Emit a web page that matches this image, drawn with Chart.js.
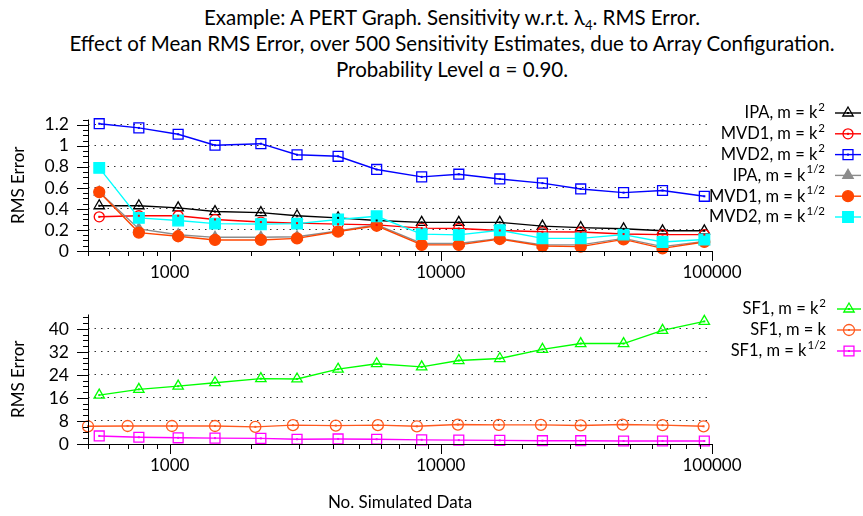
<!DOCTYPE html>
<html lang="en">
<head>
<meta charset="UTF-8">
<title>PERT Graph - RMS Error</title>
<script src="https://cdn.jsdelivr.net/npm/chart.js"></script>
<style>
    body { margin: 0; background: #fff; font-family: Lato, "Open Sans", sans-serif; }
    #wrap { position: relative; width: 863px; height: 516px; overflow: hidden; }
    #title {
        position: absolute; left: 0; top: 4px; width: 904px;
        text-align: center; font-size: 20.5px; line-height: 26px; color: #000;
    }
    #title sub { font-size: 13px; line-height: 0; }
    #topBox { position: absolute; left: 0; top: 90px; }
    #botBox { position: absolute; left: 0; top: 285px; }
</style>
</head>
<body>
<div id="wrap">
    <div id="title">
        Example: A PERT Graph. Sensitivity w.r.t. λ<sub>4</sub>. RMS Error.<br>
        Effect of Mean RMS Error, over 500 Sensitivity Estimates, due to Array Configuration.<br>
        Probability Level ɑ = 0.90.
    </div>
    <canvas id="topBox" width="863" height="195"></canvas>
    <canvas id="botBox" width="863" height="231"></canvas>
</div>
<script>
    // x values (no. simulated data)
    const simData = [550, 770, 1075, 1470, 2170, 2950, 4180, 5800, 8500, 11650, 16500, 23700, 32800, 47200, 65700, 93700];
    const simDataMk = [500, 700, 1020, 1470, 2070, 2850, 4100, 5860, 8160, 11560, 16370, 23400, 32800, 46800, 65700, 93100];

    // top panel series
    const ipaK2   = [0.43, 0.43, 0.41, 0.375, 0.365, 0.335, 0.315, 0.29, 0.272, 0.272, 0.272, 0.236, 0.222, 0.211, 0.192, 0.192];
    const mvd1K2  = [0.325, 0.335, 0.335, 0.30, 0.275, 0.265, 0.255, 0.248, 0.217, 0.214, 0.195, 0.183, 0.181, 0.161, 0.156, 0.156];
    const mvd2K2  = [1.21, 1.17, 1.11, 1.005, 1.02, 0.915, 0.90, 0.775, 0.705, 0.73, 0.685, 0.645, 0.59, 0.555, 0.575, 0.52];
    const ipaK12  = [0.56, 0.21, 0.155, 0.13, 0.13, 0.135, 0.19, 0.25, 0.072, 0.072, 0.12, 0.058, 0.058, 0.12, 0.042, 0.09];
    const mvd1K12 = [0.56, 0.175, 0.14, 0.105, 0.105, 0.12, 0.185, 0.24, 0.058, 0.058, 0.114, 0.047, 0.042, 0.11, 0.025, 0.086];
    const mvd2K12 = [0.79, 0.315, 0.29, 0.26, 0.255, 0.26, 0.30, 0.33, 0.16, 0.153, 0.197, 0.12, 0.12, 0.156, 0.086, 0.11];

    // bottom panel series
    const sf1K2  = [17, 19, 20.1, 21.3, 22.7, 22.6, 26, 27.9, 26.8, 29, 29.7, 32.9, 34.9, 34.9, 39.5, 42.6];
    const sf1K   = [6.15, 6.25, 6.25, 6.25, 5.95, 6.55, 6.4, 6.55, 6.15, 6.75, 6.65, 6.65, 6.45, 6.75, 6.55, 6.15];
    const sf1K12 = [2.8, 2.35, 2.15, 2.05, 1.95, 1.65, 1.75, 1.65, 1.45, 1.35, 1.25, 1.15, 1.15, 1.05, 1.05, 1.05];

    // tick labels
    const xTicks = [1000, 10000, 100000];
    const yTopTicks = [0, 0.2, 0.4, 0.6, 0.8, 1, 1.2];
    const yBotTicks = [0, 8, 16, 24, 32, 40];

    const FONT = 'Lato, "Open Sans", sans-serif';

    function series(label, sup, xs, ys, color, style, radius, filled, order) {
        return {
            label: label, sup: sup,
            data: xs.map((x, i) => ({x: x, y: ys[i]})),
            borderColor: color, backgroundColor: color,
            pointBackgroundColor: filled ? color : 'rgba(0,0,0,0)',
            pointBorderColor: color, pointStyle: style, pointRadius: radius,
            pointBorderWidth: 1.3, borderWidth: 1.4, tension: 0,
            clip: false, fill: false, order: order, dot: !filled
        };
    }

    // axis lines and major/minor ticks, gnuplot style
    const axesPlugin = {
        id: 'gnuAxes',
        afterDraw(chart, args, o) {
            const ctx = chart.ctx, a = chart.chartArea, x = chart.scales.x, y = chart.scales.y;
            ctx.save();
            ctx.strokeStyle = '#000';
            ctx.lineWidth = 1;
            ctx.beginPath();
            ctx.moveTo(a.left + 0.5, a.top);
            ctx.lineTo(a.left + 0.5, a.bottom + 0.5);
            ctx.lineTo(a.right, a.bottom + 0.5);
            for (let d = 100; d <= 100000; d *= 10) {
                for (let m = 1; m <= 9; m++) {
                    const v = m * d;
                    if (v < x.min || v > x.max) continue;
                    const px = Math.round(x.getPixelForValue(v)) + 0.5;
                    ctx.moveTo(px, a.bottom);
                    ctx.lineTo(px, a.bottom + (m === 1 ? 10 : 5));
                }
            }
            for (let i = 0; i * o.minor <= y.max + 1e-9; i++) {
                const py = Math.round(y.getPixelForValue(i * o.minor)) + 0.5;
                ctx.moveTo(a.left, py);
                ctx.lineTo(a.left - (i % o.per === 0 ? 11 : 5), py);
            }
            ctx.stroke();
            ctx.restore();
        }
    };

    // small centre dot inside open markers
    const dotPlugin = {
        id: 'centerDots',
        afterDatasetsDraw(chart) {
            const ctx = chart.ctx;
            chart.data.datasets.forEach((ds, i) => {
                if (!ds.dot) return;
                ctx.fillStyle = ds.borderColor;
                chart.getDatasetMeta(i).data.forEach(p => ctx.fillRect(p.x - 1, p.y - 1, 2, 2));
            });
        }
    };

    // legend on the right, with superscripts
    const legendPlugin = {
        id: 'sideLegend',
        afterDraw(chart, args, o) {
            const ctx = chart.ctx;
            const mainFont = o.size + 'px ' + FONT, supFont = o.supSize + 'px ' + FONT;
            chart.data.datasets.forEach((ds, i) => {
                const y = o.y0 + i * o.dy;
                ctx.save();
                ctx.textBaseline = 'middle';
                ctx.textAlign = 'left';
                ctx.fillStyle = '#000';
                ctx.font = supFont;
                const ws = ds.sup ? ctx.measureText(ds.sup).width + 1 : 0;
                ctx.font = mainFont;
                const wm = ctx.measureText(ds.label).width;
                const x0 = o.textRight - ws - wm;
                ctx.fillText(ds.label, x0, y);
                if (ds.sup) {
                    ctx.font = supFont;
                    ctx.fillText(ds.sup, x0 + wm + 1, y - o.raise);
                }
                ctx.strokeStyle = ds.borderColor;
                ctx.lineWidth = ds.borderWidth;
                ctx.beginPath();
                ctx.moveTo(o.lineX0, y);
                ctx.lineTo(o.lineX1, y);
                ctx.stroke();
                const cx = (o.lineX0 + o.lineX1) / 2;
                ctx.fillStyle = ds.pointBackgroundColor;
                ctx.lineWidth = ds.pointBorderWidth;
                Chart.helpers.drawPoint(ctx, {pointStyle: ds.pointStyle, radius: ds.pointRadius, rotation: 0, borderWidth: ds.pointBorderWidth}, cx, y);
                if (ds.dot) {
                    ctx.fillStyle = ds.borderColor;
                    ctx.fillRect(cx - 1, y - 1, 2, 2);
                }
                ctx.restore();
            });
        }
    };

    function scalesFor(yMax, yTicks, xHeight, withTitle) {
        return {
            x: {
                type: 'logarithmic', min: 500, max: 100000,
                afterBuildTicks: s => { s.ticks = xTicks.map(v => ({value: v})); },
                afterFit: s => { s.height = xHeight; },
                grid: {display: false, drawTicks: false},
                border: {display: false},
                ticks: {
                    autoSkip: false, maxRotation: 0, padding: 11, color: '#000',
                    font: {family: FONT, size: 17},
                    callback: v => String(v)
                },
                title: {
                    display: withTitle, text: 'No. Simulated Data', color: '#000',
                    font: {family: FONT, size: 17}, padding: {top: 0, bottom: 3}
                }
            },
            y: {
                min: 0, max: yMax,
                afterBuildTicks: s => { s.ticks = yTicks.map(v => ({value: v})); },
                afterFit: s => { s.width = 88; },
                grid: {
                    drawTicks: false, lineWidth: 1,
                    color: c => (c.tick && c.tick.value > 0) ? '#333' : 'rgba(0,0,0,0)'
                },
                border: {display: false, dash: [1.5, 5]},
                ticks: {
                    autoSkip: false, padding: 19, color: '#000',
                    font: {family: FONT, size: 17.5},
                    callback: v => String(v)
                },
                title: {
                    display: true, text: 'RMS Error', color: '#000',
                    font: {family: FONT, size: 17}, padding: {top: 8, bottom: 0}
                }
            }
        };
    }

    new Chart(document.getElementById('topBox'), {
        type: 'line',
        data: {
            datasets: [
                series('IPA, m = k', '2', simData, ipaK2, '#000000', 'triangle', 6, false, 0),
                series('MVD1, m = k', '2', simData, mvd1K2, '#ff0000', 'circle', 5, false, -1),
                series('MVD2, m = k', '2', simData, mvd2K2, '#0000ff', 'rect', 7, false, -2),
                series('IPA, m = k', '1/2', simData, ipaK12, '#8c8c8c', 'triangle', 6, true, -3),
                series('MVD1, m = k', '1/2', simData, mvd1K12, '#ff4500', 'circle', 5.5, true, -4),
                series('MVD2, m = k', '1/2', simData, mvd2K12, '#00ffff', 'rect', 7.5, true, -5)
            ]
        },
        options: {
            responsive: false, animation: false,
            layout: {padding: {top: 11, right: 151, left: 0, bottom: 0}},
            plugins: {
                legend: {display: false}, tooltip: {enabled: false},
                gnuAxes: {minor: 0.05, per: 4},
                sideLegend: {y0: 23, dy: 20.8, textRight: 825, lineX0: 835, lineX1: 861, size: 16.5, supSize: 11.5, raise: 6}
            },
            scales: scalesFor(1.25, yTopTicks, 34, false)
        },
        plugins: [axesPlugin, dotPlugin, legendPlugin]
    });

    new Chart(document.getElementById('botBox'), {
        type: 'line',
        data: {
            datasets: [
                series('SF1, m = k', '2', simData, sf1K2, '#00ff00', 'triangle', 6, false, 0),
                series('SF1, m = k', '', simDataMk, sf1K, '#ff5a1f', 'circle', 5.5, false, -1),
                series('SF1, m = k', '1/2', simData, sf1K12, '#ff00ff', 'rect', 7, false, -2)
            ]
        },
        options: {
            responsive: false, animation: false,
            layout: {padding: {top: 13, right: 151, left: 0, bottom: 0}},
            plugins: {
                legend: {display: false}, tooltip: {enabled: false},
                gnuAxes: {minor: 2, per: 4},
                sideLegend: {y0: 24, dy: 21, textRight: 826, lineX0: 837, lineX1: 861, size: 16.5, supSize: 11.5, raise: 6}
            },
            scales: scalesFor(45, yBotTicks, 72, true)
        },
        plugins: [axesPlugin, dotPlugin, legendPlugin]
    });
</script>
</body>
</html>
